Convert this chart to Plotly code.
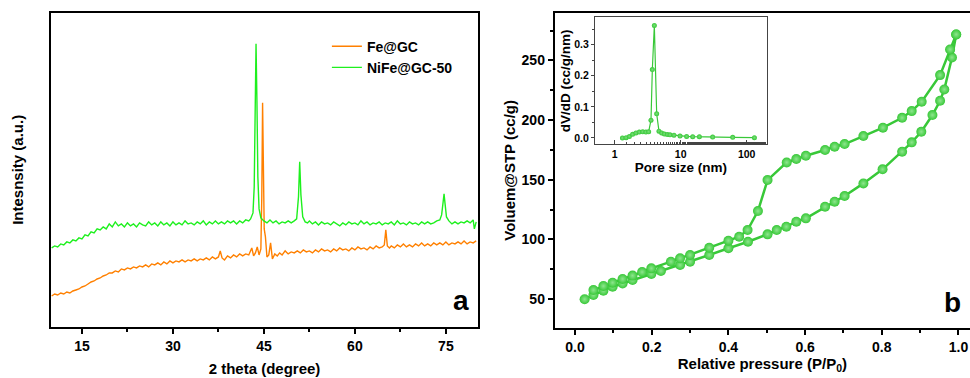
import plotly.graph_objects as go

# ---------------- Panel a: XRD ----------------
ni_theta = [10.0, 10.5, 11.0, 11.5, 12.0, 12.5, 13.0, 13.5, 14.0, 14.5, 15.0, 15.5, 16.0, 16.5, 17.0, 17.5,
            18.0, 18.5, 19.0, 19.5, 20.0, 20.5, 21.0, 21.5, 22.0, 22.5, 23.0, 23.5, 24.0, 24.5, 25.0, 25.5,
            26.0, 26.5, 27.0, 27.5, 28.0, 28.5, 29.0, 29.5, 30.0, 30.5, 31.0, 31.5, 32.0, 32.5, 33.0, 33.5,
            34.0, 34.5, 35.0, 35.5, 36.0, 36.5, 37.0, 37.5, 38.0, 38.5, 39.0, 39.5, 40.0, 40.5, 41.0, 41.5,
            42.0, 42.5, 42.8, 43.2, 43.4, 43.55, 43.7, 43.85, 44.0, 44.2, 44.5, 45.0, 45.5, 46.0, 46.5, 47.0,
            47.5, 48.0, 48.5, 49.0, 49.5, 50.0, 50.4, 50.7, 50.9, 51.1, 51.4, 51.8, 52.2, 52.5, 53.0, 53.5,
            54.0, 54.5, 55.0, 55.5, 56.0, 56.5, 57.0, 57.5, 58.0, 58.5, 59.0, 59.5, 60.0, 60.5, 61.0, 61.5,
            62.0, 62.5, 63.0, 63.5, 64.0, 64.5, 65.0, 65.5, 66.0, 66.5, 67.0, 67.5, 68.0, 68.5, 69.0, 69.5,
            70.0, 70.5, 71.0, 71.5, 72.0, 72.5, 73.0, 73.5, 74.0, 74.3, 74.55, 74.7, 74.85, 75.1, 75.5, 76.0,
            76.5, 77.0, 77.5, 78.0, 78.5, 79.0, 79.5, 79.7, 80.0]
ni_int = [79, 81, 80, 83, 82, 85, 84, 87, 86, 89, 88, 92, 91, 95, 94, 98,
          97, 100, 98, 103, 100, 105, 101, 103, 100, 104, 101, 103, 100, 104, 102, 101,
          105, 102, 104, 101, 105, 102, 104, 101, 105, 102, 104, 102, 106, 103, 104, 102,
          105, 103, 106, 102, 105, 103, 106, 103, 105, 103, 106, 104, 106, 103, 106, 104,
          107, 106, 108, 114, 140, 220, 283, 225, 150, 118, 109, 106, 104, 107, 104, 106,
          103, 105, 104, 106, 104, 106, 108, 130, 165, 132, 110, 105, 104, 106, 103, 105,
          102, 105, 103, 104, 102, 105, 103, 101, 104, 102, 105, 103, 104, 102, 106, 103,
          105, 102, 104, 103, 105, 102, 104, 103, 105, 102, 106, 103, 104, 102, 105, 103,
          104, 102, 105, 103, 105, 103, 104, 106, 107, 112, 125, 133, 124, 110, 106, 103,
          105, 103, 105, 104, 106, 104, 107, 98, 105]

fe_theta = [10.0, 10.5, 11.0, 11.5, 12.0, 12.5, 13.0, 13.5, 14.0, 14.5, 15.0, 15.5, 16.0, 16.5, 17.0, 17.5,
            18.0, 18.5, 19.0, 19.5, 20.0, 20.5, 21.0, 21.5, 22.0, 22.5, 23.0, 23.5, 24.0, 24.5, 25.0, 25.5,
            26.0, 26.5, 27.0, 27.5, 28.0, 28.5, 29.0, 29.5, 30.0, 30.5, 31.0, 31.5, 32.0, 32.5, 33.0, 33.5,
            34.0, 34.5, 35.0, 35.5, 36.0, 36.5, 37.0, 37.5, 37.8, 38.1, 38.5, 39.0, 39.5, 40.0, 40.5, 41.0,
            41.5, 42.0, 42.5, 43.0, 43.3, 43.6, 43.9, 44.2, 44.5, 44.65, 44.78, 44.9, 45.05, 45.25, 45.5, 45.8,
            46.1, 46.4, 46.8, 47.2, 47.6, 48.0, 48.5, 49.0, 49.5, 50.0, 50.5, 51.0, 51.5, 52.0, 52.5, 53.0,
            53.5, 54.0, 54.5, 55.0, 55.5, 56.0, 56.5, 57.0, 57.5, 58.0, 58.5, 59.0, 59.5, 60.0, 60.5, 61.0,
            61.5, 62.0, 62.5, 63.0, 63.5, 64.0, 64.5, 64.85, 65.1, 65.35, 65.7, 66.0, 66.5, 67.0, 67.5, 68.0,
            68.5, 69.0, 69.5, 70.0, 70.5, 71.0, 71.5, 72.0, 72.5, 73.0, 73.5, 74.0, 74.5, 75.0, 75.5, 76.0,
            76.5, 77.0, 77.5, 78.0, 78.5, 79.0, 79.5, 80.0]
fe_int = [31, 33, 32, 34, 33, 35, 34, 36, 37, 38, 40, 41, 43, 45, 46, 48,
          49, 51, 52, 54, 54, 56, 55, 58, 57, 59, 58, 60, 59, 61, 60, 62,
          60, 63, 62, 64, 62, 65, 63, 66, 64, 66, 65, 67, 65, 67, 66, 68,
          66, 68, 67, 69, 67, 70, 68, 70, 76, 69, 67, 71, 69, 72, 70, 73,
          71, 73, 72, 79, 71, 74, 80, 72, 78, 130, 224, 140, 98, 90, 70, 72,
          84, 68, 73, 71, 74, 72, 76, 73, 75, 74, 76, 74, 77, 75, 76, 74,
          77, 75, 78, 76, 77, 75, 78, 76, 79, 77, 78, 76, 79, 77, 80, 78,
          79, 77, 80, 78, 81, 79, 80, 82, 97, 81, 79, 81, 79, 82, 80, 83,
          80, 82, 80, 83, 81, 84, 81, 83, 81, 84, 82, 84, 82, 85, 82, 84,
          83, 85, 83, 86, 83, 85, 84, 86]

xrd_ticks = [15, 30, 45, 60, 75]

# ---------------- Panel b: N2 isotherm ----------------
ads_p = [0.025, 0.048, 0.074, 0.098, 0.124, 0.150, 0.199, 0.224, 0.274, 0.300, 0.350, 0.400, 0.451, 0.502,
         0.526, 0.551, 0.577, 0.602, 0.652, 0.677, 0.703, 0.752, 0.802, 0.853, 0.878, 0.903, 0.932, 0.952,
         0.963, 0.983, 0.994]
ads_v = [49.8, 53.4, 57.0, 60.3, 63.0, 65.9, 71.0, 73.5, 78.5, 81.3, 86.9, 92.5, 98.0, 104.2,
         107.8, 110.6, 114.8, 117.6, 127.4, 131.6, 136.3, 146.9, 158.7, 173.5, 181.3, 190.2, 204.2, 216.2,
         225.7, 252.5, 271.8]
des_p = [0.994, 0.978, 0.952, 0.904, 0.878, 0.853, 0.803, 0.752, 0.703, 0.677, 0.652, 0.602, 0.577, 0.552,
         0.502, 0.477, 0.450, 0.428, 0.400, 0.350, 0.300, 0.274, 0.250, 0.199, 0.175, 0.150, 0.124, 0.098,
         0.074, 0.048]
des_v = [271.8, 259.2, 237.7, 215.4, 207.5, 201.9, 193.6, 186.6, 179.9, 177.7, 174.9, 170.1, 167.3, 164.5,
         149.7, 123.7, 107.8, 102.2, 98.9, 93.0, 86.9, 84.1, 81.3, 75.7, 72.6, 69.6, 66.8, 63.7,
         60.9, 57.5]

# ---------------- Inset: pore size distribution ----------------
pore_d = [1.31, 1.49, 1.67, 1.87, 2.10, 2.36, 2.66, 2.98, 3.27, 3.55, 3.72, 3.99, 4.33, 4.69,
          5.15, 5.66, 6.28, 6.89, 7.92, 9.77, 12.3, 15.2, 19.2, 30.5, 61.4, 131.0]
pore_dv = [0.000, 0.001, 0.005, 0.012, 0.016, 0.019, 0.020, 0.019, 0.020, 0.057, 0.220, 0.362, 0.078, 0.022,
           0.016, 0.013, 0.011, 0.010, 0.009, 0.006, 0.005, 0.004, 0.004, 0.003, 0.002, 0.001]

ORANGE = "#FF8000"
LIME = "#1EF01E"
GREEN = "#38C838"
FONT = "Arial, Liberation Sans, sans-serif"

fig = go.Figure()
fig.add_trace(go.Scatter(x=fe_theta, y=fe_int, mode="lines", name="Fe@GC",
                         line=dict(color=ORANGE, width=1.4), xaxis="x", yaxis="y"))
fig.add_trace(go.Scatter(x=ni_theta, y=ni_int, mode="lines", name="NiFe@GC-50",
                         line=dict(color=LIME, width=1.4), xaxis="x", yaxis="y"))

marker_b = dict(size=10, color=GREEN, line=dict(width=0),
                gradient=dict(type="radial", color="#8EE68E"))
fig.add_trace(go.Scatter(x=ads_p, y=ads_v, mode="lines+markers", showlegend=False,
                         line=dict(color=GREEN, width=2.5), marker=marker_b, xaxis="x2", yaxis="y2"))
fig.add_trace(go.Scatter(x=des_p, y=des_v, mode="lines+markers", showlegend=False,
                         line=dict(color=GREEN, width=2.5), marker=marker_b, xaxis="x2", yaxis="y2"))
fig.add_trace(go.Scatter(x=pore_d, y=pore_dv, mode="lines+markers", showlegend=False,
                         line=dict(color=GREEN, width=1.2),
                         marker=dict(size=5, color=GREEN, line=dict(width=0),
                                     gradient=dict(type="radial", color="#7ADF7A")),
                         xaxis="x3", yaxis="y3"))

tickf = dict(family=FONT, size=14, color="black", weight="bold")
titlef = dict(family=FONT, size=15, color="black", weight="bold")
small_tickf = dict(family=FONT, size=10.5, color="black", weight="bold")
small_titlef = dict(family=FONT, size=13.5, color="black", weight="bold")

fig.update_layout(
    width=970, height=378,
    margin=dict(l=0, r=0, t=0, b=0),
    paper_bgcolor="white", plot_bgcolor="white",
    showlegend=True,
    legend=dict(x=0.337, y=0.919, xanchor="left", yanchor="top", bgcolor="rgba(0,0,0,0)",
                font=dict(family=FONT, size=14, color="black", weight="bold"), tracegroupgap=0),
    xaxis=dict(domain=[0.0526, 0.4928], range=[9.9, 80.3], tickvals=xrd_ticks,
               ticks="outside", ticklen=5, tickwidth=1.5, tickcolor="black",
               minor=dict(tickvals=[22.5, 37.5, 52.5, 67.5], ticks="outside", ticklen=3,
                          tickwidth=1.5, tickcolor="black"),
               showline=True, linecolor="black", linewidth=2, mirror=True, showgrid=False,
               zeroline=False, tickfont=tickf,
               title=dict(text="2 theta (degree)", font=titlef, standoff=11)),
    yaxis=dict(domain=[0.1349, 0.9664], range=[0, 314], showticklabels=False, ticks="",
               showline=True, linecolor="black", linewidth=2, mirror=True, showgrid=False,
               zeroline=False,
               title=dict(text="Intesnsity (a.u.)", font=titlef, standoff=22)),
    xaxis2=dict(domain=[0.5719, 1.0], range=[-0.0529, 1.03], anchor="y2",
                tickvals=[0.0, 0.2, 0.4, 0.6, 0.8, 1.0], ticktext=["0.0", "0.2", "0.4", "0.6", "0.8", "1.0"],
                ticks="outside", ticklen=5, tickwidth=1.5, tickcolor="black",
                minor=dict(tickvals=[0.1, 0.3, 0.5, 0.7, 0.9], ticks="outside", ticklen=3,
                           tickwidth=1.5, tickcolor="black"),
                showline=True, linecolor="black", linewidth=2, mirror=True, showgrid=False,
                zeroline=False, tickfont=tickf,
                title=dict(text="Relative pressure (P/P<sub>0</sub>)", font=titlef, standoff=5)),
    yaxis2=dict(domain=[0.1323, 0.9664], range=[25.7, 290], anchor="x2",
                tickvals=[50, 100, 150, 200, 250],
                ticks="outside", ticklen=5, tickwidth=1.5, tickcolor="black",
                minor=dict(tickvals=[75, 125, 175, 225, 275], ticks="outside", ticklen=3,
                           tickwidth=1.5, tickcolor="black"),
                showline=True, linecolor="black", linewidth=2, mirror=False, showgrid=False,
                zeroline=False, tickfont=tickf,
                title=dict(text="Voluem@STP (cc/g)", font=titlef, standoff=2)),
    xaxis3=dict(domain=[0.6134, 0.7904], type="log", range=[-0.298, 2.303], anchor="y3",
                tickvals=[1, 10, 100], ticktext=["1", "10", "100"],
                ticks="inside", ticklen=4, tickwidth=1, tickcolor="#444",
                minor=dict(ticks="inside", ticklen=2, tickwidth=1, tickcolor="#444", showgrid=False),
                showline=True, linecolor="#444", linewidth=1, mirror=True, showgrid=False,
                zeroline=False, tickfont=small_tickf,
                title=dict(text="Pore size (nm)", font=small_titlef, standoff=0)),
    yaxis3=dict(domain=[0.6183, 0.9542], range=[-0.0203, 0.388], anchor="x3",
                tickvals=[0.0, 0.1, 0.2, 0.3], ticktext=["0.0", "0.1", "0.2", "0.3"],
                ticks="outside", ticklen=3, tickwidth=1, tickcolor="#444",
                minor=dict(tickvals=[0.05, 0.15, 0.25, 0.35], ticks="outside", ticklen=2,
                           tickwidth=1, tickcolor="#444"),
                showline=True, linecolor="#444", linewidth=1, mirror=True, showgrid=False,
                zeroline=False, tickfont=small_tickf,
                title=dict(text="dV/dD (cc/g/nm)", font=small_titlef, standoff=0)),
    annotations=[
        dict(text="a", x=461, y=318, xref="paper", yref="paper", showarrow=False,
             font=dict(family=FONT, size=28, color="black", weight="bold")),
        dict(text="b", x=963, y=320, xref="paper", yref="paper", showarrow=False,
             font=dict(family=FONT, size=28, color="black", weight="bold")),
    ],
)

# convert annotation pixel positions to paper fractions
for ann in fig.layout.annotations:
    ann.x = ann.x / 970
    ann.y = 1 - ann.y / 378

fig.add_shape(type="rect", xref="paper", yref="paper", x0=0.6134, x1=0.7904, y0=0.6183, y1=0.9542,
              fillcolor="white", line=dict(width=0), layer="below")

fig.write_html("out.html", config={"displayModeBar": False},
               post_script="document.body.style.margin='0px';document.body.style.overflow='hidden';")
